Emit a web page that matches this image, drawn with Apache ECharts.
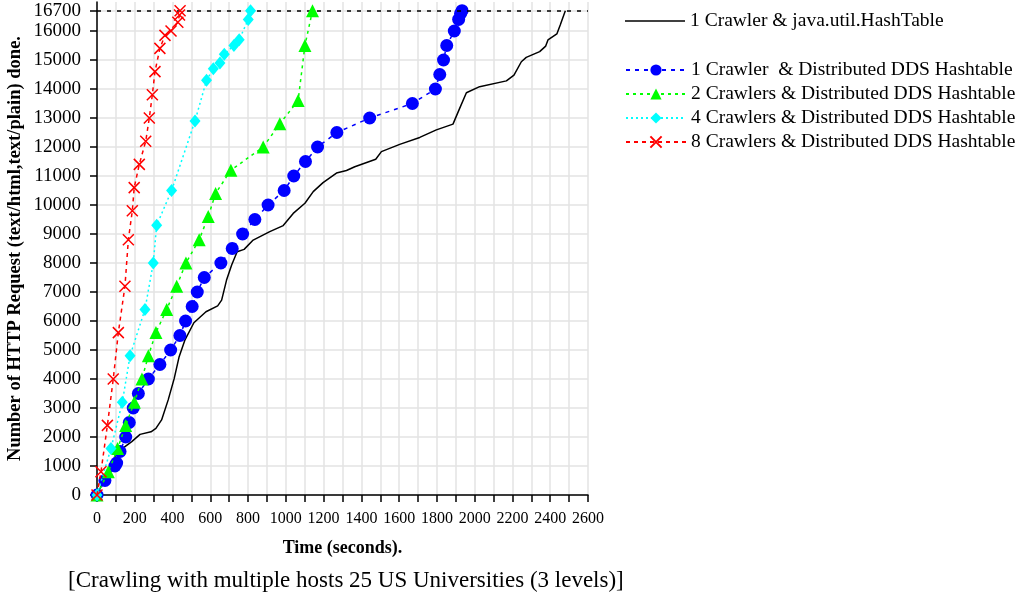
<!DOCTYPE html>
<html>
<head>
<meta charset="utf-8">
<script src="https://cdn.jsdelivr.net/npm/echarts@6/dist/echarts.min.js"></script>
<style>
html,body{margin:0;padding:0;background:#fff;}
#chart{width:1033px;height:596px;}
</style>
</head>
<body>
<div id="chart"></div>
<script>
// ---- data ----
var seriesNames = [
  '1 Crawler & java.util.HashTable',
  '1 Crawler  & Distributed DDS Hashtable',
  '2 Crawlers & Distributed DDS Hashtable',
  '4 Crawlers & Distributed DDS Hashtable',
  '8 Crawlers & Distributed DDS Hashtable'
];
var hashTableTime = [0,104,148,184,228,286,312,342,377,409,435,466,513,577,639,660,686,713,742,779,827,845,915,986,1039,1101,1145,1197,1268,1321,1365,1476,1506,1603,1709,1797,1885,1917,1956,2026,2168,2208,2247,2273,2344,2376,2388,2435,2453,2480];
var hashTableReq  = [0,1440,1670,1840,2090,2180,2300,2590,3280,4020,4770,5350,5940,6320,6520,6720,7410,7930,8390,8470,8790,8850,9080,9290,9710,10060,10460,10770,11100,11190,11320,11580,11840,12090,12330,12590,12790,13280,13870,14080,14280,14480,14940,15090,15290,15480,15690,15900,16210,16700];

var dds1Time = [0,42,95,104,122,152,171,192,219,272,333,390,439,469,504,531,568,656,716,771,836,906,991,1042,1104,1168,1270,1444,1670,1792,1815,1835,1852,1892,1915,1925,1933];
var dds1Req  = [0,500,1000,1100,1500,2000,2500,3000,3500,4000,4500,5000,5500,6000,6500,7000,7500,8000,8500,9000,9500,10000,10500,11000,11500,12000,12500,13000,13500,14000,14500,15000,15500,16000,16400,16600,16700];

var dds2Time = [0,60,109,152,198,238,272,312,369,422,471,541,589,628,709,880,968,1065,1101,1141];
var dds2Req  = [0,800,1600,2400,3200,4000,4800,5600,6400,7200,8000,8800,9600,10400,11200,12000,12800,13600,15500,16700];

var dds4Time = [0,74,134,175,254,298,316,395,519,580,616,651,674,725,753,801,813];
var dds4Req  = [0,1600,3200,4800,6400,8000,9300,10500,12900,14300,14700,14900,15200,15500,15700,16400,16700];

var dds8Time = [0,21,55,86,113,148,166,187,197,224,258,277,293,307,333,360,392,428,437,440];
var dds8Req  = [0,800,2400,4000,5600,7200,8800,9800,10600,11400,12200,13000,13800,14600,15400,15850,16000,16300,16550,16700];

var totalRequests = 16700;
var yTickValues = [0,1000,2000,3000,4000,5000,6000,7000,8000,9000,10000,11000,12000,13000,14000,15000,16000,16700];

function pairs(xs, ys){ return xs.map(function(x,i){ return [x, ys[i]]; }); }

var FONT = 'Liberation Serif';
var chart = echarts.init(document.getElementById('chart'), null, {renderer:'canvas'});
var crossPath = 'path://M0,0L10,10M10,0L0,10';

var option = {
  animation: false,
  backgroundColor: '#fff',
  textStyle: {fontFamily: FONT},
  grid: {left: 97, right: 445, top: 2, bottom: 101, containLabel: false},
  legend: [
    {
      data: [{name: seriesNames[0], icon: 'rect'}],
      orient: 'vertical', left: 620, top: 6,
      itemWidth: 60, itemHeight: 1.5,
      textStyle: {fontFamily: FONT, fontSize: 19.5, color: '#000'}
    },
    {
      data: seriesNames.slice(1),
      orient: 'vertical', left: 620, top: 55,
      itemWidth: 60, itemHeight: 14, itemGap: 4,
      textStyle: {fontFamily: FONT, fontSize: 19.5, color: '#000'}
    }
  ],
  xAxis: {
    type: 'value', min: 0, max: 2600, interval: 100,
    name: 'Time (seconds).', nameLocation: 'middle', nameGap: 44,
    nameTextStyle: {fontFamily: FONT, fontSize: 18, fontWeight: 'bold', color: '#000'},
    axisLine: {lineStyle: {color: '#000', width: 1.5}},
    axisTick: {show: true, length: 7, lineStyle: {color: '#000', width: 1.5}},
    axisLabel: {
      fontFamily: FONT, fontSize: 16, color: '#000', margin: 16,
      formatter: function(v){ return (v % 200 === 0) ? String(v) : ''; }
    },
    splitLine: {show: true, lineStyle: {color: '#e3e3e3', width: 1.5}}
  },
  yAxis: {
    type: 'value', min: 0, max: 17000, interval: 1000,
    name: 'Number of HTTP Request (text/html,text/plain) done.',
    nameLocation: 'middle', nameGap: 72,
    nameTextStyle: {fontFamily: FONT, fontSize: 18.5, fontWeight: 'bold', color: '#000'},
    axisLine: {show: true, lineStyle: {color: '#000', width: 1.5}},
    axisTick: {show: true, length: 7, customValues: yTickValues, lineStyle: {color: '#000', width: 1.5}},
    axisLabel: {
      fontFamily: FONT, fontSize: 19, color: '#000', margin: 16, customValues: yTickValues,
      formatter: function(v){ return String(v); }
    },
    splitLine: {show: true, lineStyle: {color: '#e3e3e3', width: 1.5}}
  },
  graphic: [
    {
      type: 'text', left: 68, top: 569,
      style: {text: '[Crawling with multiple hosts 25 US Universities (3 levels)]', font: '23px "Liberation Serif"', fill: '#000'}
    }
  ],
  series: [
    {
      name: seriesNames[0], type: 'line', data: pairs(hashTableTime, hashTableReq),
      symbol: 'none', lineStyle: {color: '#000', width: 1.5}, itemStyle: {color: '#000'},
      z: 3,
      markLine: {
        silent: true, symbol: 'none', label: {show: false},
        lineStyle: {color: '#000', type: [4, 6], width: 1.5},
        data: [{yAxis: totalRequests}]
      }
    },
    {
      name: seriesNames[1], type: 'line', data: pairs(dds1Time, dds1Req),
      symbol: 'circle', symbolSize: 13,
      lineStyle: {color: '#0000ff', width: 1.5, type: [4, 5]}, itemStyle: {color: '#0000ff'}, z: 4
    },
    {
      name: seriesNames[2], type: 'line', data: pairs(dds2Time, dds2Req),
      symbol: 'triangle', symbolSize: 13,
      lineStyle: {color: '#00ff00', width: 1.5, type: [3, 4]}, itemStyle: {color: '#00ff00'}, z: 5
    },
    {
      name: seriesNames[3], type: 'line', data: pairs(dds4Time, dds4Req),
      symbol: 'diamond', symbolSize: [11, 13],
      lineStyle: {color: '#00ffff', width: 1.5, type: [2, 3]}, itemStyle: {color: '#00ffff'}, z: 6
    },
    {
      name: seriesNames[4], type: 'line', data: pairs(dds8Time, dds8Req),
      symbol: crossPath, symbolSize: 11,
      lineStyle: {color: '#ff0000', width: 1.5, type: [4, 4]},
      itemStyle: {color: 'rgba(0,0,0,0)', borderColor: '#ff0000', borderWidth: 1.5}, z: 7
    }
  ]
};
chart.setOption(option);
</script>
</body>
</html>
